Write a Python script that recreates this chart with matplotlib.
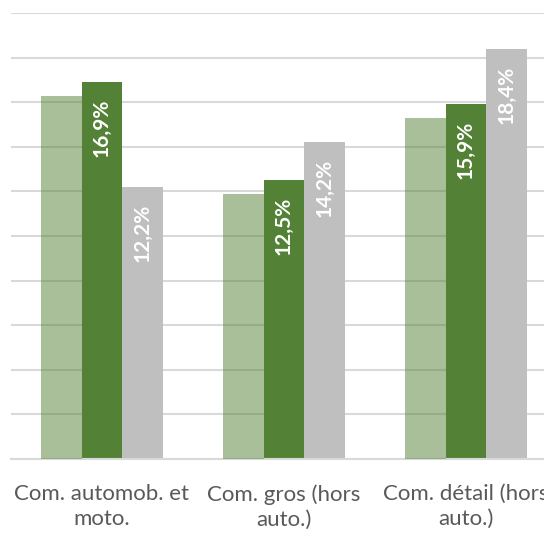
import numpy as np
import matplotlib.pyplot as plt

# categories and series values (in %)
categories = ["Com. automob. et\nmoto.", "Com. gros (hors\nauto.)", "Com. détail (hors\nauto.)"]
serie_a = [16.3, 11.9, 15.3]   # light green, no labels
serie_b = [16.9, 12.5, 15.9]   # dark green
serie_c = [12.2, 14.2, 18.4]   # grey
labels_b = ["16,9%", "12,5%", "15,9%"]
labels_c = ["12,2%", "14,2%", "18,4%"]

plt.rcParams["font.family"] = ["Lato", "DejaVu Sans"]

fig = plt.figure(figsize=(5.44, 5.33), dpi=100)
W, H = 544, 533
ax = fig.add_axes([11 / W, (H - 459) / H, 546 / W, 446 / H])

x = np.arange(len(categories))
w = 0.222
dark = "#538135"
grey = "#BFBFBF"

ax.bar(x - w, serie_a, w, color=dark, alpha=0.5, zorder=3, linewidth=0)
bars_b = ax.bar(x, serie_b, w, color=dark, zorder=2, linewidth=0)
bars_c = ax.bar(x + w, serie_c, w, color=grey, zorder=2, linewidth=0)

for bars, labs in [(bars_b, labels_b), (bars_c, labels_c)]:
    for b, lab in zip(bars, labs):
        ax.annotate(lab, (b.get_x() + b.get_width() / 2, b.get_height()),
                    xytext=(0, -12), textcoords="offset points",
                    rotation=90, ha="center", va="top", color="white",
                    fontsize=15, fontweight="bold", zorder=5)

ax.set_xlim(-0.5, 2.5)
ax.set_ylim(0, 20)
ax.set_yticks(np.arange(0, 21, 2))
ax.yaxis.grid(True, color="#D9D9D9", linewidth=1.5, zorder=1)
ax.tick_params(axis="y", left=False, labelleft=False)
ax.set_xticks(x)
ax.set_xticklabels(categories, fontsize=16, color="#595959", linespacing=1.3,
                   multialignment="center")
ax.tick_params(axis="x", length=0, pad=18)
for s in ["top", "right", "left"]:
    ax.spines[s].set_visible(False)
ax.spines["bottom"].set_color("#D9D9D9")
ax.spines["bottom"].set_linewidth(1.5)

fig.savefig("out.png", dpi=100)
